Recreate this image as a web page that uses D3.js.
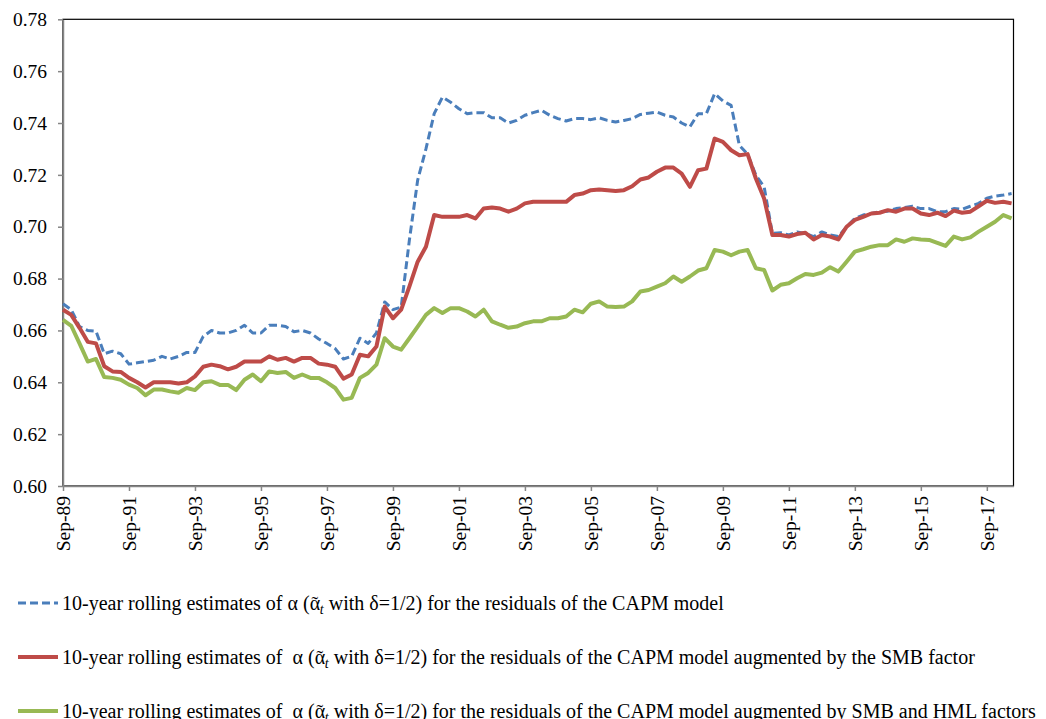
<!DOCTYPE html>
<html>
<head>
<meta charset="utf-8">
<script src="https://cdn.jsdelivr.net/npm/d3@7"></script>
<style>
  body { margin: 0; background: #fff; }
  svg { display: block; }
  svg text { font-family: "Liberation Serif", "Times New Roman", serif; }
</style>
</head>
<body>
<script>
// quarterly readings, Sep-89 .. Jun-18
const tickLabels = ['Sep-89','Sep-91','Sep-93','Sep-95','Sep-97','Sep-99','Sep-01','Sep-03',
  'Sep-05','Sep-07','Sep-09','Sep-11','Sep-13','Sep-15','Sep-17'];

const capm = [
  0.6703,0.6680,0.6615,0.6600,0.6597,0.6510,0.6520,0.6510,0.6470,0.6475,
  0.6480,0.6485,0.6500,0.6490,0.6500,0.6515,0.6515,0.6577,0.6600,0.6590,
  0.6590,0.6600,0.6620,0.6590,0.6590,0.6620,0.6620,0.6615,0.6595,0.6600,
  0.6590,0.6567,0.6550,0.6530,0.6490,0.6500,0.6570,0.6550,0.6590,0.6710,
  0.6680,0.6690,0.6950,0.7180,0.7300,0.7436,0.7500,0.7480,0.7455,0.7436,
  0.7440,0.7440,0.7420,0.7420,0.7400,0.7410,0.7430,0.7440,0.7449,0.7430,
  0.7417,0.7408,0.7417,0.7417,0.7413,0.7420,0.7410,0.7404,0.7410,0.7417,
  0.7433,0.7438,0.7442,0.7430,0.7423,0.7400,0.7385,0.7436,0.7436,0.7513,
  0.7485,0.7468,0.7314,0.7280,0.7199,0.7154,0.6974,0.6977,0.6968,0.6980,
  0.6974,0.6962,0.6980,0.6968,0.6962,0.7000,0.7032,0.7045,0.7051,0.7058,
  0.7060,0.7070,0.7074,0.7079,0.7070,0.7070,0.7058,0.7058,0.7070,0.7067,
  0.7079,0.7090,0.7110,0.7118,0.7122,0.7128
];
const capmSmb = [
  0.6680,0.6660,0.6610,0.6556,0.6550,0.6462,0.6442,0.6440,0.6417,0.6400,
  0.6380,0.6400,0.6400,0.6400,0.6395,0.6400,0.6423,0.6460,0.6468,0.6462,
  0.6450,0.6460,0.6480,0.6480,0.6480,0.6500,0.6487,0.6494,0.6480,0.6494,
  0.6494,0.6472,0.6468,0.6460,0.6414,0.6430,0.6506,0.6500,0.6538,0.6692,
  0.6647,0.6680,0.6770,0.6865,0.6923,0.7045,0.7038,0.7038,0.7038,0.7045,
  0.7032,0.7070,0.7074,0.7070,0.7058,0.7070,0.7090,0.7096,0.7096,0.7096,
  0.7096,0.7096,0.7122,0.7128,0.7141,0.7144,0.7141,0.7138,0.7141,0.7156,
  0.7182,0.7190,0.7212,0.7228,0.7228,0.7205,0.7154,0.7218,0.7224,0.7340,
  0.7327,0.7295,0.7276,0.7280,0.7186,0.7109,0.6968,0.6968,0.6962,0.6972,
  0.6977,0.6951,0.6968,0.6962,0.6951,0.7000,0.7026,0.7038,0.7051,0.7054,
  0.7064,0.7058,0.7070,0.7070,0.7051,0.7045,0.7054,0.7041,0.7062,0.7054,
  0.7058,0.7079,0.7100,0.7092,0.7096,0.7090
];
const capmSmbHml = [
  0.6641,0.6618,0.6550,0.6480,0.6490,0.6420,0.6417,0.6410,0.6391,0.6378,
  0.6350,0.6372,0.6372,0.6365,0.6360,0.6378,0.6370,0.6400,0.6404,0.6390,
  0.6390,0.6370,0.6410,0.6430,0.6404,0.6442,0.6436,0.6440,0.6417,0.6430,
  0.6417,0.6417,0.6400,0.6378,0.6333,0.6340,0.6417,0.6436,0.6468,0.6570,
  0.6538,0.6526,0.6570,0.6615,0.6660,0.6686,0.6667,0.6686,0.6686,0.6673,
  0.6654,0.6680,0.6635,0.6622,0.6610,0.6615,0.6628,0.6635,0.6635,0.6647,
  0.6647,0.6654,0.6680,0.6670,0.6703,0.6712,0.6692,0.6690,0.6692,0.6712,
  0.6750,0.6756,0.6769,0.6782,0.6808,0.6788,0.6808,0.6831,0.6840,0.6910,
  0.6904,0.6890,0.6904,0.6910,0.6840,0.6833,0.6754,0.6776,0.6782,0.6801,
  0.6818,0.6814,0.6823,0.6844,0.6827,0.6865,0.6904,0.6913,0.6923,0.6929,
  0.6929,0.6951,0.6942,0.6955,0.6951,0.6949,0.6938,0.6926,0.6962,0.6951,
  0.6959,0.6981,0.7000,0.7019,0.7045,0.7032
];

const seriesNames = [
  'for the residuals of the CAPM model',
  'for the residuals of the CAPM model augmented by the SMB factor',
  'for the residuals of the CAPM model augmented by SMB and HML factors'
];

const width = 1046, height = 719;
const plot = { left: 63, right: 1013.5, top: 19.3, bottom: 486 };

const svg = d3.select('body')
  .append('svg')
  .attr('width', width)
  .attr('height', height);

// x in months since Sep-89
const x = d3.scaleLinear().domain([0, 345.7]).range([plot.left, plot.right]);
const y = d3.scaleLinear().domain([0.60, 0.78]).range([plot.bottom, plot.top]);

// plot frame
svg.append('rect')
  .attr('x', plot.left).attr('y', plot.top)
  .attr('width', plot.right - plot.left).attr('height', plot.bottom - plot.top)
  .attr('fill', 'none')
  .attr('stroke', '#000')
  .attr('stroke-width', 1.2);

const yAxis = d3.axisLeft(y)
  .tickValues(d3.range(0.60, 0.7801, 0.02))
  .tickFormat(d3.format('.2f'))
  .tickSize(5)
  .tickSizeOuter(0)
  .tickPadding(11);

const gy = svg.append('g')
  .attr('transform', `translate(${plot.left},0)`)
  .call(yAxis)
  .attr('font-family', null)
  .attr('font-size', null);
gy.selectAll('path, line').attr('stroke', '#868686').attr('stroke-width', 1.5);
gy.selectAll('text').attr('fill', '#000').style('font-size', '19.5px');

const xAxis = d3.axisBottom(x)
  .tickValues(tickLabels.map((d, i) => i * 24))
  .tickFormat((d, i) => tickLabels[i])
  .tickSize(5)
  .tickSizeOuter(0);

const gx = svg.append('g')
  .attr('transform', `translate(0,${plot.bottom})`)
  .call(xAxis)
  .attr('font-family', null)
  .attr('font-size', null);
gx.selectAll('path, line').attr('stroke', '#868686').attr('stroke-width', 1.5);
gx.selectAll('text')
  .attr('fill', '#000')
  .style('font-size', '19.5px')
  .attr('transform', 'rotate(-90)')
  .attr('x', -10)
  .attr('y', 0)
  .attr('dy', '0.35em')
  .attr('text-anchor', 'end');

// lines
const line = d3.line()
  .x((d, i) => x(i * 3))
  .y(d => y(d));

const styles = [
  { data: capm, color: '#4A7EBB', w: 3, dash: '8,4' },
  { data: capmSmb, color: '#BE4B48', w: 4, dash: null },
  { data: capmSmbHml, color: '#98B954', w: 4, dash: null }
];

styles.forEach(s => {
  svg.append('path')
    .datum(s.data)
    .attr('fill', 'none')
    .attr('stroke', s.color)
    .attr('stroke-width', s.w)
    .attr('stroke-linejoin', 'round')
    .attr('stroke-dasharray', s.dash)
    .attr('d', line);
});

// legend
const legend = svg.append('g').attr('class', 'legend');
styles.forEach((s, i) => {
  const ly = 603 + i * 54;
  legend.append('line')
    .attr('x1', 18).attr('x2', 58)
    .attr('y1', ly).attr('y2', ly)
    .attr('stroke', s.color)
    .attr('stroke-width', s.w)
    .attr('stroke-dasharray', s.dash);

  const t = legend.append('text')
    .attr('x', 62)
    .attr('y', ly + 7)
    .style('font-size', '20px')
    .style('white-space', 'pre')
    .attr('fill', '#000');
  t.append('tspan').text(i === 0 ? '10-year rolling estimates of α (' : '10-year rolling estimates of  α (');
  t.append('tspan').text('α');
  // tilde over the alpha
  t.append('tspan').attr('dx', -8.6).attr('dy', 1).text('˜');
  t.append('tspan').attr('dx', 1.6).attr('dy', 3).attr('font-style', 'italic').style('font-size', '14px').text('t');
  t.append('tspan').attr('dy', -4).text(' with δ=1/2) ' + seriesNames[i]);
});
</script>
</body>
</html>
